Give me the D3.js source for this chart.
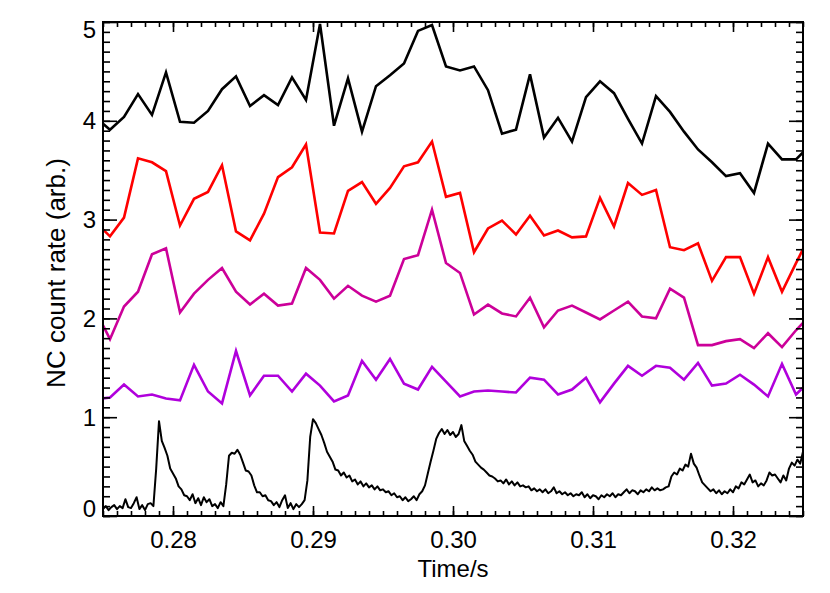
<!DOCTYPE html>
<html>
<head>
<meta charset="utf-8">
<script src="https://cdn.jsdelivr.net/npm/d3@7/dist/d3.min.js"></script>
<style>
    body { margin: 0; background: #fff; }
    text { font-family: "Liberation Sans", Arial, Helvetica, sans-serif; }
</style>
</head>
<body>
<div id="chart"></div>
<script>

// 1 ms bins (bin centres), first and last fall just outside the x range
var binTimes = [0.2745, 0.2755, 0.2765, 0.2775, 0.2785, 0.2795, 0.2805, 0.2815, 0.2825, 0.2835,
    0.2845, 0.2855, 0.2865, 0.2875, 0.2885, 0.2895, 0.2905, 0.2915, 0.2925, 0.2935,
    0.2945, 0.2955, 0.2965, 0.2975, 0.2985, 0.2995, 0.3005, 0.3015, 0.3025, 0.3035,
    0.3045, 0.3055, 0.3065, 0.3075, 0.3085, 0.3095, 0.3105, 0.3115, 0.3125, 0.3135,
    0.3145, 0.3155, 0.3165, 0.3175, 0.3185, 0.3195, 0.3205, 0.3215, 0.3225, 0.3235,
    0.3245, 0.3255];

var blackRate = [4.03, 3.91, 4.04, 4.27, 4.06, 4.49, 3.99, 3.98, 4.10, 4.32,
    4.45, 4.15, 4.26, 4.16, 4.44, 4.21, 4.98, 3.95, 4.43, 3.89,
    4.35, 4.46, 4.58, 4.91, 4.97, 4.55, 4.51, 4.55, 4.31, 3.87,
    3.91, 4.47, 3.83, 4.03, 3.79, 4.24, 4.40, 4.28, 4.02, 3.77,
    4.25, 4.09, 3.89, 3.71, 3.58, 3.44, 3.47, 3.27, 3.77, 3.61,
    3.61, 3.75];

var redRate = [2.97, 2.83, 3.02, 3.62, 3.58, 3.49, 2.94, 3.21, 3.28, 3.55,
    2.88, 2.79, 3.06, 3.43, 3.53, 3.76, 2.87, 2.86, 3.29, 3.38,
    3.16, 3.32, 3.54, 3.58, 3.79, 3.23, 3.27, 2.67, 2.91, 2.99,
    2.85, 3.04, 2.84, 2.89, 2.82, 2.83, 3.22, 2.93, 3.37, 3.25,
    3.30, 2.72, 2.69, 2.76, 2.38, 2.62, 2.62, 2.25, 2.62, 2.27,
    2.56, 2.84];

var magentaRate = [2.07, 1.79, 2.12, 2.27, 2.65, 2.71, 2.06, 2.25, 2.39, 2.51,
    2.27, 2.14, 2.25, 2.13, 2.15, 2.51, 2.39, 2.20, 2.33, 2.23,
    2.17, 2.23, 2.60, 2.64, 3.10, 2.56, 2.46, 2.04, 2.14, 2.05,
    2.02, 2.21, 1.91, 2.08, 2.13, 2.06, 1.99, 2.08, 2.17, 2.02,
    2.00, 2.30, 2.21, 1.73, 1.73, 1.77, 1.79, 1.70, 1.85, 1.71,
    1.88, 2.03];

var purpleRate = [1.18, 1.20, 1.33, 1.21, 1.23, 1.19, 1.17, 1.53, 1.26, 1.14,
    1.67, 1.22, 1.42, 1.42, 1.26, 1.44, 1.32, 1.16, 1.22, 1.57,
    1.38, 1.59, 1.34, 1.28, 1.51, 1.36, 1.21, 1.26, 1.27, 1.26,
    1.25, 1.40, 1.38, 1.23, 1.28, 1.40, 1.15, 1.34, 1.52, 1.42,
    1.52, 1.50, 1.38, 1.55, 1.32, 1.34, 1.43, 1.33, 1.21, 1.54,
    1.23, 1.37];

// fast trace, sampled every 0.2 ms from 0.275 s
var traceStart = 0.275;
var traceStep = 0.0002;
var traceRate = [
    0.07, 0.10, 0.06, 0.09, 0.11, 0.07, 0.10, 0.08, 0.17, 0.09,
    0.08, 0.13, 0.19, 0.07, 0.11, 0.06, 0.12, 0.13, 0.10, 0.48,
    0.96, 0.76, 0.69, 0.61, 0.48, 0.43, 0.38, 0.30, 0.27, 0.21,
    0.20, 0.16, 0.22, 0.13, 0.18, 0.11, 0.19, 0.14, 0.17, 0.10,
    0.12, 0.08, 0.14, 0.10, 0.32, 0.61, 0.64, 0.63, 0.67, 0.62,
    0.54, 0.46, 0.45, 0.41, 0.31, 0.24, 0.24, 0.20, 0.21, 0.16,
    0.15, 0.11, 0.14, 0.09, 0.16, 0.21, 0.08, 0.13, 0.07, 0.12,
    0.09, 0.12, 0.16, 0.36, 0.80, 0.98, 0.94, 0.88, 0.82, 0.74,
    0.65, 0.60, 0.55, 0.47, 0.46, 0.41, 0.44, 0.39, 0.41, 0.35,
    0.37, 0.32, 0.35, 0.30, 0.33, 0.29, 0.31, 0.27, 0.30, 0.26,
    0.27, 0.24, 0.25, 0.21, 0.23, 0.19, 0.20, 0.16, 0.19, 0.15,
    0.17, 0.20, 0.16, 0.22, 0.25, 0.31, 0.43, 0.55, 0.66, 0.78,
    0.84, 0.88, 0.83, 0.87, 0.82, 0.85, 0.80, 0.83, 0.92, 0.76,
    0.71, 0.66, 0.62, 0.55, 0.52, 0.49, 0.47, 0.44, 0.41, 0.40,
    0.38, 0.35, 0.36, 0.33, 0.37, 0.32, 0.35, 0.31, 0.34, 0.30,
    0.31, 0.29, 0.30, 0.26, 0.28, 0.25, 0.27, 0.24, 0.27, 0.23,
    0.25, 0.29, 0.23, 0.25, 0.22, 0.24, 0.21, 0.23, 0.20, 0.22,
    0.21, 0.24, 0.19, 0.22, 0.18, 0.21, 0.20, 0.17, 0.21, 0.19,
    0.22, 0.20, 0.23, 0.19, 0.22, 0.21, 0.24, 0.27, 0.23, 0.26,
    0.25, 0.22, 0.26, 0.24, 0.27, 0.25, 0.29, 0.26, 0.28, 0.26,
    0.27, 0.29, 0.30, 0.40, 0.44, 0.42, 0.48, 0.46, 0.52, 0.50,
    0.63, 0.53, 0.49, 0.41, 0.34, 0.31, 0.28, 0.25, 0.27, 0.23,
    0.26, 0.22, 0.25, 0.23, 0.27, 0.24, 0.30, 0.28, 0.34, 0.32,
    0.37, 0.42, 0.34, 0.36, 0.30, 0.33, 0.31, 0.36, 0.44, 0.41,
    0.42, 0.38, 0.34, 0.41, 0.36, 0.48, 0.54, 0.51, 0.57, 0.53,
    0.65];

var xTicks = [0.28, 0.29, 0.30, 0.31, 0.32];
var xTickLabels = ["0.28", "0.29", "0.30", "0.31", "0.32"];
var yTicks = [0, 1, 2, 3, 4, 5];
var yTickLabels = ["0", "1", "2", "3", "4", "5"];

var seriesNames = ["black", "red", "magenta", "purple"];
var seriesColors = ["#000000", "#ff0000", "#cc0099", "#b000dc"];

var margin = {top: 22, right: 27, bottom: 77, left: 103},
    width = 830 - margin.left - margin.right,
    height = 593 - margin.top - margin.bottom;

var x = d3.scaleLinear().domain([0.275, 0.325]).range([0, width]);
var y = d3.scaleLinear().domain([0, 5]).range([height, 0]);

var svg = d3.select("#chart").append("svg")
    .attr("width", width + margin.left + margin.right)
    .attr("height", height + margin.top + margin.bottom)
    .append("g")
    .attr("transform", "translate(" + margin.left + "," + margin.top + ")");

svg.append("clipPath").attr("id", "plotclip")
    .append("rect").attr("width", width).attr("height", height);

var plot = svg.append("g").attr("clip-path", "url(#plotclip)");

var line = d3.line()
    .x(function (d) { return x(d.t); })
    .y(function (d) { return y(d.v); });

//binned rates
var rates = [blackRate, redRate, magentaRate, purpleRate];
rates.forEach(function (r, i) {
    var pts = binTimes.map(function (t, j) { return {t: t, v: r[j]}; });
    plot.append("path")
        .datum(pts)
        .attr("class", "rate " + seriesNames[i])
        .attr("fill", "none")
        .attr("stroke", seriesColors[i])
        .attr("stroke-width", 2.6)
        .attr("stroke-linejoin", "miter")
        .attr("d", line);
});

//fast trace
var tracePts = traceRate.map(function (v, j) {
    return {t: traceStart + j * traceStep, v: v};
});
plot.append("path")
    .datum(tracePts)
    .attr("fill", "none")
    .attr("stroke", "#000")
    .attr("stroke-width", 2)
    .attr("stroke-linejoin", "round")
    .attr("d", line);

// axes: inward ticks on all four sides
var xMinor = x.ticks(50), yMinor = y.ticks(50);

function styleAxis(g) {
    g.select(".domain").remove();
    g.selectAll(".tick line").attr("stroke", "#000").attr("stroke-width", 1.6);
}

svg.append("g").attr("transform", "translate(0," + height + ")")
    .call(d3.axisBottom(x).tickValues(xMinor).tickSize(-5).tickFormat(""))
    .call(styleAxis);
svg.append("g").attr("transform", "translate(0," + height + ")")
    .call(d3.axisBottom(x).tickValues(xTicks).tickSize(-10).tickPadding(15)
        .tickFormat(function (d, i) { return xTickLabels[i]; }))
    .call(styleAxis)
    .selectAll("text").style("font-size", "24px").attr("fill", "#000");
svg.append("g")
    .call(d3.axisTop(x).tickValues(xMinor).tickSize(-5).tickFormat(""))
    .call(styleAxis);
svg.append("g")
    .call(d3.axisTop(x).tickValues(xTicks).tickSize(-10).tickFormat(""))
    .call(styleAxis);

svg.append("g")
    .call(d3.axisLeft(y).tickValues(yMinor).tickSize(-7).tickFormat(""))
    .call(styleAxis);
svg.append("g")
    .call(d3.axisLeft(y).tickValues(yTicks).tickSize(-14).tickPadding(7)
        .tickFormat(function (d, i) { return yTickLabels[i]; }))
    .call(styleAxis)
    .selectAll("text")
    .style("font-size", "24px")
    .attr("fill", "#000")
    // end labels are kept inside the frame
    .attr("dy", function (d) {
        if (d === 0) return "0.02em";
        if (d === 5) return "0.66em";
        return "0.34em";
    });
svg.append("g").attr("transform", "translate(" + width + ",0)")
    .call(d3.axisRight(y).tickValues(yMinor).tickSize(-7).tickFormat(""))
    .call(styleAxis);
svg.append("g").attr("transform", "translate(" + width + ",0)")
    .call(d3.axisRight(y).tickValues(yTicks).tickSize(-14).tickFormat(""))
    .call(styleAxis);

svg.append("rect")
    .attr("width", width)
    .attr("height", height)
    .attr("fill", "none")
    .attr("stroke", "#000")
    .attr("stroke-width", 2);

svg.append("text")
    .attr("x", width / 2)
    .attr("y", height + 61)
    .style("font-size", "24px")
    .style("text-anchor", "middle")
    .text("Time/s");

svg.append("text")
    .attr("transform", "translate(" + (-38) + "," + (height / 2 + 4) + ") rotate(-90)")
    .style("font-size", "26px")
    .style("text-anchor", "middle")
    .text("NC count rate (arb.)");

</script>
</body>
</html>
